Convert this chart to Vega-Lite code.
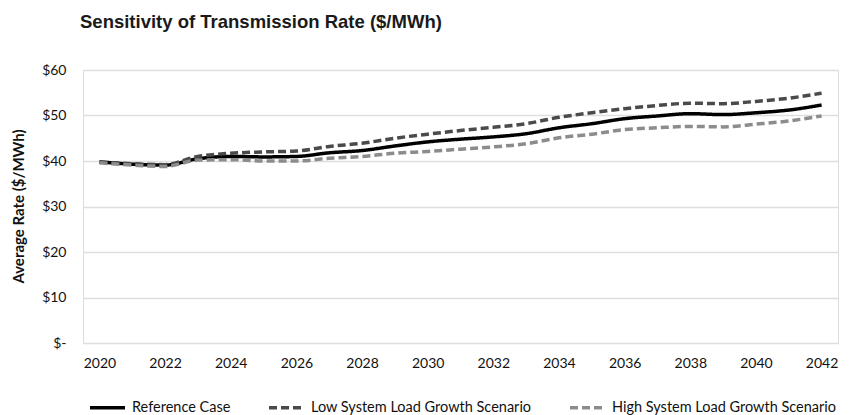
{
  "$schema": "https://vega.github.io/schema/vega-lite/v6.json",
  "autosize": "none",
  "width": 755,
  "height": 273,
  "padding": {"left": 83, "top": 70, "right": 12, "bottom": 72},
  "background": "white",
  "title": {
    "text": "Sensitivity of Transmission Rate ($/MWh)",
    "anchor": "start",
    "frame": "group",
    "font": "Liberation Sans",
    "fontSize": 18.5,
    "fontWeight": "bold",
    "color": "#1a1a1a",
    "dx": -3,
    "offset": 17,
    "baseline": "alphabetic"
  },
  "data": {
    "values": [
      {"year": 2020, "series": "Reference Case", "rate": 39.8},
      {"year": 2021, "series": "Reference Case", "rate": 39.3},
      {"year": 2022, "series": "Reference Case", "rate": 39.1},
      {"year": 2023, "series": "Reference Case", "rate": 40.5},
      {"year": 2024, "series": "Reference Case", "rate": 41.0},
      {"year": 2025, "series": "Reference Case", "rate": 40.9},
      {"year": 2026, "series": "Reference Case", "rate": 41.0},
      {"year": 2027, "series": "Reference Case", "rate": 41.8},
      {"year": 2028, "series": "Reference Case", "rate": 42.3},
      {"year": 2029, "series": "Reference Case", "rate": 43.3},
      {"year": 2030, "series": "Reference Case", "rate": 44.2},
      {"year": 2031, "series": "Reference Case", "rate": 44.8},
      {"year": 2032, "series": "Reference Case", "rate": 45.3},
      {"year": 2033, "series": "Reference Case", "rate": 46.0},
      {"year": 2034, "series": "Reference Case", "rate": 47.3},
      {"year": 2035, "series": "Reference Case", "rate": 48.2},
      {"year": 2036, "series": "Reference Case", "rate": 49.3},
      {"year": 2037, "series": "Reference Case", "rate": 49.9},
      {"year": 2038, "series": "Reference Case", "rate": 50.4},
      {"year": 2039, "series": "Reference Case", "rate": 50.2},
      {"year": 2040, "series": "Reference Case", "rate": 50.6},
      {"year": 2041, "series": "Reference Case", "rate": 51.2},
      {"year": 2042, "series": "Reference Case", "rate": 52.3},
      {"year": 2020, "series": "Low System Load Growth Scenario", "rate": 39.8},
      {"year": 2021, "series": "Low System Load Growth Scenario", "rate": 39.4},
      {"year": 2022, "series": "Low System Load Growth Scenario", "rate": 39.2},
      {"year": 2023, "series": "Low System Load Growth Scenario", "rate": 41.0},
      {"year": 2024, "series": "Low System Load Growth Scenario", "rate": 41.7},
      {"year": 2025, "series": "Low System Load Growth Scenario", "rate": 42.0},
      {"year": 2026, "series": "Low System Load Growth Scenario", "rate": 42.2},
      {"year": 2027, "series": "Low System Load Growth Scenario", "rate": 43.2},
      {"year": 2028, "series": "Low System Load Growth Scenario", "rate": 43.9},
      {"year": 2029, "series": "Low System Load Growth Scenario", "rate": 45.0},
      {"year": 2030, "series": "Low System Load Growth Scenario", "rate": 45.9},
      {"year": 2031, "series": "Low System Load Growth Scenario", "rate": 46.7},
      {"year": 2032, "series": "Low System Load Growth Scenario", "rate": 47.4},
      {"year": 2033, "series": "Low System Load Growth Scenario", "rate": 48.2},
      {"year": 2034, "series": "Low System Load Growth Scenario", "rate": 49.6},
      {"year": 2035, "series": "Low System Load Growth Scenario", "rate": 50.6},
      {"year": 2036, "series": "Low System Load Growth Scenario", "rate": 51.5},
      {"year": 2037, "series": "Low System Load Growth Scenario", "rate": 52.2},
      {"year": 2038, "series": "Low System Load Growth Scenario", "rate": 52.7},
      {"year": 2039, "series": "Low System Load Growth Scenario", "rate": 52.6},
      {"year": 2040, "series": "Low System Load Growth Scenario", "rate": 53.1},
      {"year": 2041, "series": "Low System Load Growth Scenario", "rate": 53.8},
      {"year": 2042, "series": "Low System Load Growth Scenario", "rate": 54.9},
      {"year": 2020, "series": "High System Load Growth Scenario", "rate": 39.6},
      {"year": 2021, "series": "High System Load Growth Scenario", "rate": 39.1},
      {"year": 2022, "series": "High System Load Growth Scenario", "rate": 38.8},
      {"year": 2023, "series": "High System Load Growth Scenario", "rate": 40.2},
      {"year": 2024, "series": "High System Load Growth Scenario", "rate": 40.3},
      {"year": 2025, "series": "High System Load Growth Scenario", "rate": 40.0},
      {"year": 2026, "series": "High System Load Growth Scenario", "rate": 40.0},
      {"year": 2027, "series": "High System Load Growth Scenario", "rate": 40.6},
      {"year": 2028, "series": "High System Load Growth Scenario", "rate": 41.0},
      {"year": 2029, "series": "High System Load Growth Scenario", "rate": 41.7},
      {"year": 2030, "series": "High System Load Growth Scenario", "rate": 42.1},
      {"year": 2031, "series": "High System Load Growth Scenario", "rate": 42.6},
      {"year": 2032, "series": "High System Load Growth Scenario", "rate": 43.1},
      {"year": 2033, "series": "High System Load Growth Scenario", "rate": 43.8},
      {"year": 2034, "series": "High System Load Growth Scenario", "rate": 45.1},
      {"year": 2035, "series": "High System Load Growth Scenario", "rate": 45.9},
      {"year": 2036, "series": "High System Load Growth Scenario", "rate": 46.9},
      {"year": 2037, "series": "High System Load Growth Scenario", "rate": 47.3},
      {"year": 2038, "series": "High System Load Growth Scenario", "rate": 47.6},
      {"year": 2039, "series": "High System Load Growth Scenario", "rate": 47.5},
      {"year": 2040, "series": "High System Load Growth Scenario", "rate": 48.1},
      {"year": 2041, "series": "High System Load Growth Scenario", "rate": 48.8},
      {"year": 2042, "series": "High System Load Growth Scenario", "rate": 49.9}
    ]
  },
  "mark": {"type": "line", "interpolate": "monotone", "strokeCap": "butt"},
  "encoding": {
    "x": {
      "field": "year",
      "type": "quantitative",
      "scale": {"domain": [2019.5, 2042.5], "nice": false, "zero": false},
      "axis": {
        "title": null,
        "values": [2020, 2022, 2024, 2026, 2028, 2030, 2032, 2034, 2036, 2038, 2040, 2042],
        "format": "d",
        "grid": false,
        "domain": false,
        "ticks": false,
        "labelPadding": 13,
        "labelFont": "Lato",
        "labelFontSize": 14,
        "labelColor": "#111111"
      }
    },
    "y": {
      "field": "rate",
      "type": "quantitative",
      "scale": {"domain": [0, 60], "nice": false},
      "axis": {
        "title": "Average Rate ($/MWh)",
        "titleFont": "Lato",
        "titleFontSize": 15,
        "titleFontWeight": "bold",
        "titleColor": "#111111",
        "titleX": -65,
        "titleY": 136,
        "titleAngle": -90,
        "titleBaseline": "middle",
        "titleAlign": "center",
        "values": [0, 10, 20, 30, 40, 50, 60],
        "labelExpr": "datum.value == 0 ? '$-' : '$' + datum.value",
        "labelFont": "Lato",
        "labelFontSize": 14,
        "labelColor": "#111111",
        "labelPadding": 17,
        "domain": false,
        "ticks": false,
        "grid": true,
        "gridColor": "#dedede",
        "gridWidth": 1.5
      }
    },
    "color": {
      "field": "series",
      "type": "nominal",
      "sort": ["Reference Case", "Low System Load Growth Scenario", "High System Load Growth Scenario"],
      "scale": {
        "domain": ["Reference Case", "Low System Load Growth Scenario", "High System Load Growth Scenario"],
        "range": ["#000000", "#4a4a4a", "#8c8c8c"]
      },
      "legend": {
        "title": null,
        "orient": "none",
        "legendX": 5,
        "legendY": 318,
        "direction": "horizontal",
        "symbolType": "stroke",
        "symbolSize": 1225,
        "symbolStrokeWidth": 3.5,
        "labelFont": "Lato",
        "labelFontSize": 14.5,
        "labelColor": "#111111",
        "labelLimit": 0,
        "columnPadding": 31,
        "labelOffset": 5
      }
    },
    "strokeDash": {
      "field": "series",
      "type": "nominal",
      "sort": ["Reference Case", "Low System Load Growth Scenario", "High System Load Growth Scenario"],
      "scale": {
        "domain": ["Reference Case", "Low System Load Growth Scenario", "High System Load Growth Scenario"],
        "range": [[1, 0], [8, 4], [8, 4]]
      },
      "legend": null
    },
    "strokeWidth": {"value": 3.5}
  }
}
